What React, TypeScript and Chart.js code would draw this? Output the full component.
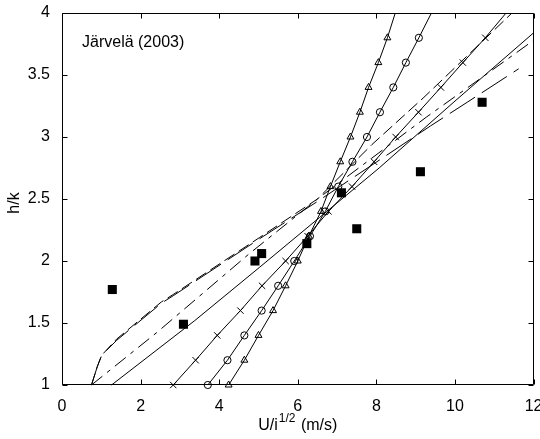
import React, { useEffect, useRef } from "react";
import { Chart, registerables } from "chart.js";
Chart.register(...registerables);

const FONT = "'Liberation Sans', Arial, Helvetica, sans-serif";

// Axis ticks
const xTicks = [0, 2, 4, 6, 8, 10, 12];
const yTicks = [1, 1.5, 2, 2.5, 3, 3.5, 4];

// Marker curves: h/k levels (last level is the line end at the frame, no marker)
const markerLevels = [1, 1.2, 1.4, 1.6, 1.8, 2, 2.2, 2.4, 2.6, 2.8, 3, 3.2, 3.4, 3.6, 3.8, 4];
const triangleX = [4.24, 4.64, 5.0, 5.37, 5.69, 6.0, 6.28, 6.59, 6.83, 7.08, 7.34, 7.58, 7.8, 8.05, 8.28, 8.48];
const circleX = [3.71, 4.21, 4.64, 5.08, 5.5, 5.91, 6.31, 6.7, 7.03, 7.39, 7.76, 8.09, 8.43, 8.75, 9.08, 9.4];
const crossX = [2.83, 3.4, 3.95, 4.54, 5.09, 5.69, 6.25, 6.78, 7.38, 7.94, 8.49, 9.07, 9.64, 10.2, 10.77, 11.3];

// Plain curves
const solidX = [1.26, 3.38, 5.03, 6.55, 8.07, 10, 12];
const solidY = [1, 1.52, 1.95, 2.35, 2.75, 3.29, 3.84];

const dashDotX = [0.75, 2.4, 4.77, 6.5, 9.27, 11.3, 12];
const dashDotY = [1, 1.42, 2.06, 2.5, 3.16, 3.62, 3.78];

const longDashX = [0.75, 0.9, 1.01, 1.39, 2.53, 2.83, 5.03, 6.5, 7.89, 9.21, 11.45];
const longDashY = [1, 1.15, 1.24, 1.37, 1.67, 1.73, 2.19, 2.5, 2.94, 3.32, 4.0];

const veryLongDashX = [0.75, 0.9, 1.01, 1.39, 2.53, 2.83, 5.03, 6.5, 9.38, 10.31, 11.62];
const veryLongDashY = [1, 1.15, 1.24, 1.36, 1.66, 1.72, 2.18, 2.48, 3.09, 3.28, 3.55];

// Measured data (filled squares)
const measuredX = [1.28, 3.09, 4.91, 5.08, 6.23, 7.11, 7.5, 9.12, 10.69];
const measuredY = [1.77, 1.49, 2.0, 2.06, 2.14, 2.55, 2.26, 2.72, 3.28];

const annotation = "Järvelä (2003)";
const yTitle = "h/k";
const xTitleMain = "U/i";
const xTitleSup = "1/2";
const xTitleUnit = " (m/s)";

const zip = (xs: number[], ys: number[]) => xs.map((x, i) => ({ x, y: ys[i] }));

const markerRadius = (r: number, n: number) => (ctx: any) => (ctx.dataIndex === n - 1 ? 0 : r);

const framePlugin = {
  id: "frame",
  afterDraw(chart: any) {
    const { ctx, chartArea: a, scales } = chart;
    const xs = scales.x;
    const ys = scales.y;
    ctx.save();
    ctx.strokeStyle = "#000";
    ctx.lineWidth = 1;
    const L = Math.round(a.left) + 0.5;
    const R = Math.round(a.right) - 0.5;
    const T = Math.round(a.top) + 0.5;
    const B = Math.round(a.bottom) - 0.5;
    ctx.beginPath();
    ctx.rect(L, T, R - L, B - T);
    const tl = 5;
    xTicks.forEach((v) => {
      const px = Math.round(xs.getPixelForValue(v)) + 0.5;
      ctx.moveTo(px, B);
      ctx.lineTo(px, B - tl);
      ctx.moveTo(px, T);
      ctx.lineTo(px, T + tl);
    });
    yTicks.forEach((v) => {
      const py = Math.round(ys.getPixelForValue(v)) + 0.5;
      ctx.moveTo(L, py);
      ctx.lineTo(L + tl, py);
      ctx.moveTo(R, py);
      ctx.lineTo(R - tl, py);
    });
    ctx.stroke();

    ctx.fillStyle = "#000";
    // annotation
    ctx.font = `16px ${FONT}`;
    ctx.textAlign = "left";
    ctx.textBaseline = "middle";
    ctx.fillText(annotation, a.left + 20, a.top + 30);

    // y title
    ctx.save();
    ctx.translate(15, (a.top + a.bottom) / 2 + 4);
    ctx.rotate(-Math.PI / 2);
    ctx.textAlign = "center";
    ctx.textBaseline = "middle";
    ctx.fillText(yTitle, 0, 0);
    ctx.restore();

    // x title with superscript
    ctx.textBaseline = "alphabetic";
    ctx.textAlign = "left";
    ctx.font = `16px ${FONT}`;
    const w1 = ctx.measureText(xTitleMain).width;
    const w3 = ctx.measureText(xTitleUnit).width;
    ctx.font = `12px ${FONT}`;
    const w2 = ctx.measureText(xTitleSup).width + 2;
    const total = w1 + w2 + w3;
    const cx = (a.left + a.right) / 2;
    let x0 = cx - total / 2;
    const base = a.bottom + 45;
    ctx.font = `16px ${FONT}`;
    ctx.fillText(xTitleMain, x0, base);
    x0 += w1 + 1;
    ctx.font = `12px ${FONT}`;
    ctx.fillText(xTitleSup, x0, base - 8);
    x0 += w2 - 1;
    ctx.font = `16px ${FONT}`;
    ctx.fillText(xTitleUnit, x0, base);
    ctx.restore();
  },
};

export default function App() {
  const ref = useRef<HTMLCanvasElement | null>(null);
  useEffect(() => {
    if (!ref.current) return;
    const n = markerLevels.length;
    const lineBase = {
      showLine: true,
      borderColor: "#000",
      borderWidth: 1,
      tension: 0,
      clip: false as any,
    };
    const chart = new Chart(ref.current, {
      type: "scatter",
      data: {
        datasets: [
          {
            ...lineBase,
            label: "triangles",
            data: zip(triangleX, markerLevels),
            pointStyle: "triangle",
            pointRadius: markerRadius(4, n),
            pointBorderColor: "#000",
            pointBackgroundColor: "rgba(0,0,0,0)",
            pointBorderWidth: 1,
          },
          {
            ...lineBase,
            label: "circles",
            data: zip(circleX, markerLevels),
            pointStyle: "circle",
            pointRadius: markerRadius(3.6, n),
            pointBorderColor: "#000",
            pointBackgroundColor: "rgba(0,0,0,0)",
            pointBorderWidth: 1,
          },
          {
            ...lineBase,
            label: "crosses",
            data: zip(crossX, markerLevels),
            pointStyle: "crossRot",
            pointRadius: markerRadius(4.5, n),
            pointBorderColor: "#000",
            pointBorderWidth: 1,
          },
          {
            ...lineBase,
            label: "solid",
            data: zip(solidX, solidY),
            pointRadius: 0,
          },
          {
            ...lineBase,
            label: "dash-dot",
            data: zip(dashDotX, dashDotY),
            pointRadius: 0,
            borderDash: [14, 6, 4, 6],
          },
          {
            ...lineBase,
            label: "long dash",
            data: zip(longDashX, longDashY),
            pointRadius: 0,
            borderDash: [12, 5],
          },
          {
            ...lineBase,
            label: "very long dash",
            data: zip(veryLongDashX, veryLongDashY),
            pointRadius: 0,
            borderDash: [30, 8],
          },
          {
            label: "measured",
            data: zip(measuredX, measuredY),
            showLine: false,
            pointStyle: "rect",
            pointRadius: 6.4,
            pointBackgroundColor: "#000",
            pointBorderColor: "#000",
            pointBorderWidth: 0,
            clip: false as any,
          },
        ],
      },
      options: {
        responsive: false,
        animation: false,
        events: [],
        layout: { padding: { top: 13, right: 5, left: 0, bottom: 0 } },
        plugins: { legend: { display: false }, tooltip: { enabled: false } },
        scales: {
          x: {
            type: "linear",
            min: 0,
            max: 12,
            grid: { display: false },
            border: { display: false },
            ticks: {
              stepSize: 2,
              padding: 4,
              color: "#000",
              font: { family: FONT, size: 16 },
              callback: (v: any) => String(+v),
            },
            afterFit: (s: any) => {
              s.height = 54;
              s.paddingLeft = 0;
              s.paddingRight = 0;
            },
          },
          y: {
            type: "linear",
            min: 1,
            max: 4,
            grid: { display: false },
            border: { display: false },
            ticks: {
              stepSize: 0.5,
              padding: 4,
              color: "#000",
              font: { family: FONT, size: 16 },
              callback: (v: any) => String(+v),
            },
            afterFit: (s: any) => {
              s.width = 62;
              s.paddingTop = 0;
              s.paddingBottom = 0;
            },
          },
        },
      },
      plugins: [framePlugin],
    });
    return () => chart.destroy();
  }, []);
  return (
    <div style={{ position: "absolute", left: 0, top: 0, width: 540, height: 439, background: "#fff" }}>
      <canvas ref={ref} width={540} height={439} />
    </div>
  );
}
